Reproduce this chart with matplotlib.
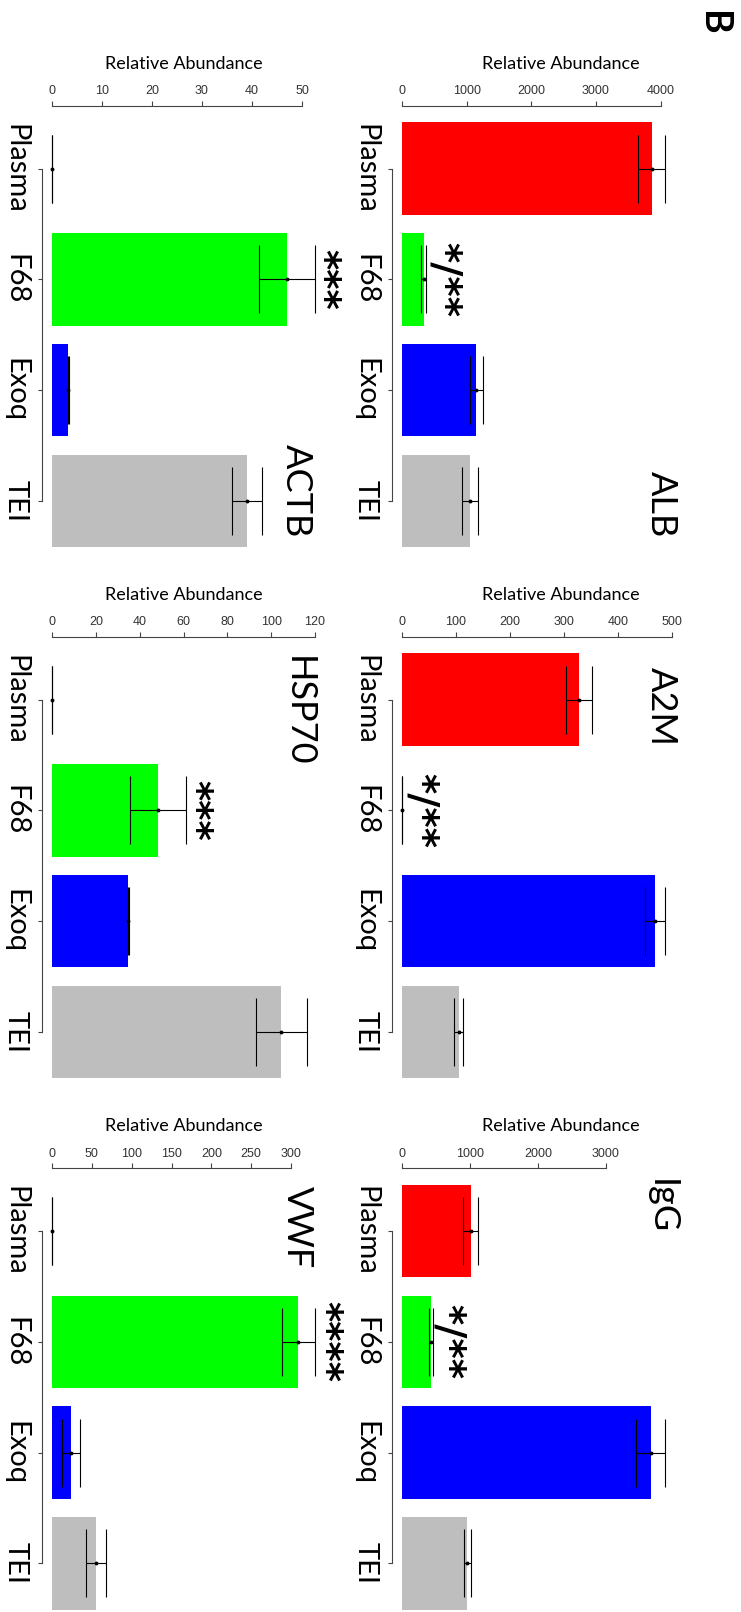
import matplotlib
matplotlib.use("Agg")
import matplotlib.pyplot as plt
import numpy as np

# groups and bar colours shared by every panel
groups = ["Plasma", "F68", "Exoq", "TEI"]
bar_colors = ["#FF0000", "#00FF00", "#0000FF", "#BEBEBE"]

# mean relative abundance and error per protein
alb_mean = [3863, 334, 1145, 1058]
alb_err = [212, 35, 100, 123]
a2m_mean = [328, 0, 469, 105]
a2m_err = [24, 0, 19, 8]
igg_mean = [1015, 425, 3660, 962]
igg_err = [110, 27, 220, 49]
actb_mean = [0, 47.0, 3.2, 39.0]
actb_err = [0, 5.6, 0.1, 3.0]
hsp70_mean = [0, 48.3, 34.9, 104.6]
hsp70_err = [0, 12.8, 0.3, 11.6]
vwf_mean = [0, 309, 23.4, 55.6]
vwf_err = [0, 21, 11.5, 12.7]

# axis ticks and upper limit of the value range
alb_ticks = [0, 1000, 2000, 3000, 4000]
a2m_ticks = [0, 100, 200, 300, 400, 500]
igg_ticks = [0, 1000, 2000, 3000]
actb_ticks = [0, 10, 20, 30, 40, 50]
hsp70_ticks = [0, 20, 40, 60, 80, 100, 120]
vwf_ticks = [0, 50, 100, 150, 200, 250, 300]
axis_max = [4075, 488, 3880, 52.6, 120, 330]

significance = ["*/**", "*/**", "*/**", "***", "***", "****"]

W, H = 741, 1612
fig = plt.figure(figsize=(W / 100, H / 100), dpi=100)

text_font = ["Lato", "DejaVu Sans"]
tick_font = ["Liberation Sans Narrow", "Liberation Sans", "DejaVu Sans"]


def px_axes(left, top, width, height):
    return fig.add_axes([left / W, 1 - (top + height) / H, width / W, height / H])


col_left = [391.5, 41.5]
col_width = [284.5, 284]
row_top = [105.5, 636.5, 1168]
row_height = 458.5

panels = [
    ("ALB", alb_mean, alb_err, alb_ticks, 0, 0),
    ("A2M", a2m_mean, a2m_err, a2m_ticks, 1, 0),
    ("IgG", igg_mean, igg_err, igg_ticks, 2, 0),
    ("ACTB", actb_mean, actb_err, actb_ticks, 0, 1),
    ("HSP70", hsp70_mean, hsp70_err, hsp70_ticks, 1, 1),
    ("VWF", vwf_mean, vwf_err, vwf_ticks, 2, 1),
]

# where each panel name sits (axes fraction) and star offsets (px)
name_pos = [(0.948, 0.131), (0.948, 0.848), (0.948, 0.916),
            (0.899, 0.159), (0.905, 0.836), (0.902, 0.872)]
star_gap = [17.5, 18.5, 15.5, 7.0, 8.0, 9.5]
label_x = [0.596, 0.596, 0.596, 0.5, 0.5, 0.5]

pos = np.array([0.7, 1.9, 3.1, 4.3])

for i, (name, mean, err, ticks, r, c) in enumerate(panels):
    ax = px_axes(col_left[c], row_top[r], col_width[c], row_height)
    m = axis_max[i]
    ax.barh(pos, mean, height=1.0, color=bar_colors, edgecolor="none", zorder=1)
    ax.errorbar(mean, pos, xerr=err, fmt="o", ms=1.8, color="black",
                elinewidth=0.8, capsize=24.8, capthick=0.8, zorder=3)
    ax.set_xlim(-0.04 * m, 1.04 * m)
    ax.set_ylim(4.984, 0.016)

    ax.xaxis.tick_top()
    ax.set_xticks(ticks)
    ax.set_xticklabels([str(t) for t in ticks], family=tick_font, fontsize=9,
                       color="#333333")
    ax.tick_params(axis="x", length=3.6, width=0.8, pad=2.5, color="#444444")
    ax.set_yticks(pos)
    ax.set_yticklabels(groups, family=text_font, fontsize=21)
    ax.tick_params(axis="y", length=2.9, width=0.8, pad=6.5, color="#444444")
    for lab in ax.get_yticklabels():
        lab.set_rotation(-90)
        lab.set_va("center")
        lab.set_ha("right")

    for s in ["right", "bottom"]:
        ax.spines[s].set_visible(False)
    ax.spines["top"].set_bounds(ticks[0], ticks[-1])
    ax.spines["left"].set_bounds(pos[0], pos[-1])
    for s in ["top", "left"]:
        ax.spines[s].set_color("#444444")
        ax.spines[s].set_linewidth(0.8)
    ax.set_facecolor("none")

    ax.text(label_x[i], 1 + 42 / row_height, "Relative Abundance",
            transform=ax.transAxes, ha="center", va="center",
            family=text_font, fontsize=13)
    ax.text(name_pos[i][0], name_pos[i][1], name, transform=ax.transAxes,
            rotation=-90, ha="center", va="center", family=text_font,
            fontsize=26)

    # significance marks next to the F68 bar
    top = mean[1] + err[1]
    ax.annotate(significance[i], xy=(top, pos[1]),
                xytext=(star_gap[i] * 0.72, 0), textcoords="offset points",
                rotation=-90, ha="center", va="center", family="DejaVu Sans",
                fontweight="bold", fontsize=28, annotation_clip=False)

fig.text(713 / W, 1 - 23 / H, "B", rotation=-90, ha="center", va="center",
         family=text_font, fontsize=27, fontweight="bold")

fig.savefig("out.png", dpi=100)
